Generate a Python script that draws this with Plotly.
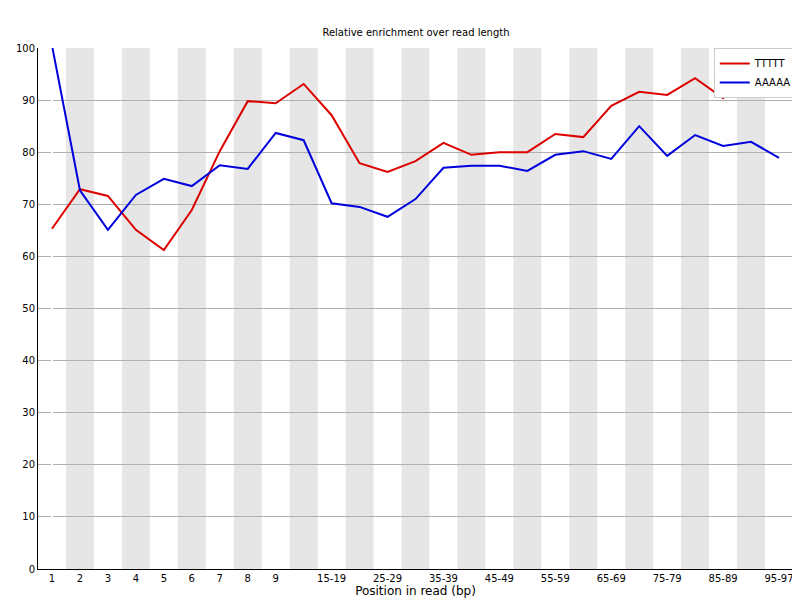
import plotly.graph_objects as go

categories = ["1", "2", "3", "4", "5", "6", "7", "8", "9",
              "10-14", "15-19", "20-24", "25-29", "30-34", "35-39", "40-44",
              "45-49", "50-54", "55-59", "60-64", "65-69", "70-74", "75-79",
              "80-84", "85-89", "90-94", "95-97"]
ttttt = [65.3, 72.9, 71.6, 65.1, 61.2, 68.9, 80.2, 89.8, 89.4, 93.1, 87.1,
         77.9, 76.2, 78.3, 81.8, 79.5, 80.0, 80.0, 83.5, 82.9, 88.9, 91.6,
         91.0, 94.2, 90.4, 97.7, 101.0]
aaaaa = [100.5, 72.7, 65.1, 71.8, 74.9, 73.5, 77.5, 76.8, 83.7, 82.3, 70.2,
         69.5, 67.6, 71.0, 77.0, 77.4, 77.4, 76.4, 79.5, 80.2, 78.7, 85.0,
         79.3, 83.3, 81.2, 82.0, 78.9]
shown_ticks = ["1", "2", "3", "4", "5", "6", "7", "8", "9", "15-19", "25-29",
               "35-39", "45-49", "55-59", "65-69", "75-79", "85-89", "95-97"]

xs = list(range(len(categories)))
fig = go.Figure()

# alternating background bands
for i in xs:
    if i % 2 == 1:
        fig.add_shape(type="rect", xref="x", yref="paper", x0=i - 0.5, x1=i + 0.5,
                      y0=0, y1=1, fillcolor="#e6e6e6", line_width=0, layer="below")

fig.add_trace(go.Scatter(x=xs, y=ttttt, mode="lines", name="TTTTT",
                         line=dict(color="#dd0000", width=2)))
fig.add_trace(go.Scatter(x=xs, y=aaaaa, mode="lines", name="AAAAA",
                         line=dict(color="#0000dd", width=2)))

fig.update_layout(
    width=800, height=600,
    margin=dict(l=30, r=15, t=40, b=39, autoexpand=False),
    plot_bgcolor="white", paper_bgcolor="white",
    font=dict(family="DejaVu Sans", size=10, color="black"),
    title=dict(text="Relative enrichment over read length", x=0.51, y=0.965,
               font=dict(size=10)),
    legend=dict(x=1.005, xanchor="right", y=1, yanchor="top", bgcolor="white",
                bordercolor="#cccccc", borderwidth=1, font=dict(size=10),
                itemwidth=30, tracegroupgap=0),
)
fig.update_xaxes(range=[-0.5, len(categories) - 0.5], tickmode="array",
                 tickvals=[categories.index(t) for t in shown_ticks],
                 ticktext=shown_ticks, showgrid=False, showline=True,
                 linecolor="black", automargin=False,
                 title=dict(text="Position in read (bp)", standoff=2))
fig.update_yaxes(range=[0, 100], dtick=10, showgrid=True, gridcolor="#b0b0b0",
                 showline=True, linecolor="black", zeroline=False,
                 automargin=False)

fig.write_html("out.html")
